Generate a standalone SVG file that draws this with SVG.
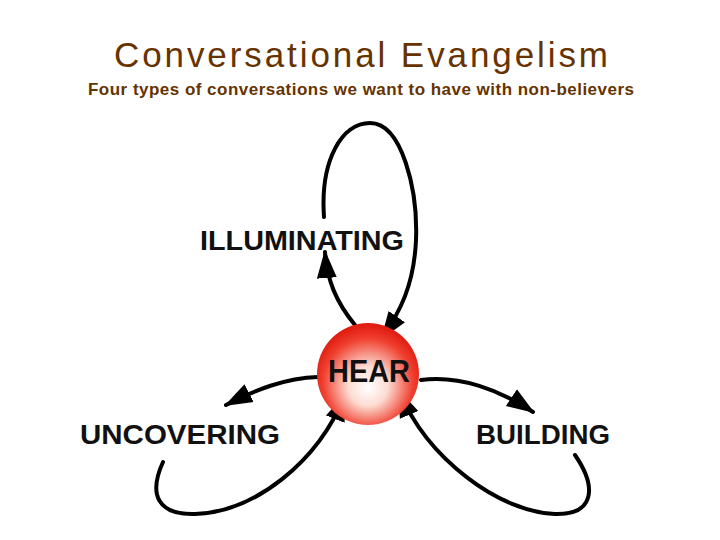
<svg xmlns="http://www.w3.org/2000/svg" width="720" height="540" viewBox="0 0 720 540">
<style>
.title{font-family:"Liberation Sans",Arial,sans-serif;fill:#663300}
.lbl{font-family:"Liberation Sans",Arial,sans-serif;font-weight:bold;fill:#111}
.conn{fill:none;stroke:#000;stroke-width:4;stroke-linecap:round;marker-end:url(#ah)}
</style>
<defs>
<marker id="ah" markerUnits="userSpaceOnUse" markerWidth="30" markerHeight="24" refX="26" refY="10" orient="auto" viewBox="0 0 30 20">
<path d="M0,0 L28,10 L0,20 Z" fill="#000"/>
</marker>
<radialGradient id="rg" cx="50%" cy="58%" r="55%" fx="50%" fy="64%">
<stop offset="0" stop-color="#ffffff"/>
<stop offset="0.35" stop-color="#fcdcd2"/>
<stop offset="0.8" stop-color="#f04030"/>
<stop offset="1" stop-color="#e01e12"/>
</radialGradient>
</defs>
<rect width="720" height="540" fill="#fff"/>
<text class="title" x="361" y="67" font-size="35" text-anchor="middle" textLength="494">Conversational Evangelism</text>
<text class="title" x="361" y="95" font-size="17" font-weight="bold" text-anchor="middle" textLength="546">Four types of conversations we want to have with non-believers</text>
<g id="connectors">
<path class="conn" d="M355,325 C336,302 327,280 325,252"/>
<path class="conn" d="M324,217 C320,160 342,123 370,123 C402,123 418,190 416,240 C414,285 400,312 382,338"/>
<path class="conn" d="M318,377 C285,378 255,390 226,405"/>
<path class="conn" d="M163,462 C148,495 158,515 195,514 C255,512 318,462 345,395"/>
<path class="conn" d="M421,380 C460,375 500,390 533,412"/>
<path class="conn" d="M575,455 C597,487 595,515 555,514 C500,512 428,460 399,391"/>
</g>
<g id="hear">
<circle cx="368" cy="374" r="51" fill="url(#rg)"/>
<text class="lbl" x="369" y="382" font-size="32" text-anchor="middle" textLength="82" lengthAdjust="spacingAndGlyphs">HEAR</text>
</g>
<g id="illuminating">
<text class="lbl" x="302" y="250" font-size="27" text-anchor="middle" textLength="204" lengthAdjust="spacingAndGlyphs">ILLUMINATING</text>
</g>
<g id="uncovering">
<text class="lbl" x="180" y="444" font-size="27" text-anchor="middle" textLength="200" lengthAdjust="spacingAndGlyphs">UNCOVERING</text>
</g>
<g id="building">
<text class="lbl" x="543" y="444" font-size="27" text-anchor="middle" textLength="134" lengthAdjust="spacingAndGlyphs">BUILDING</text>
</g>
</svg>
